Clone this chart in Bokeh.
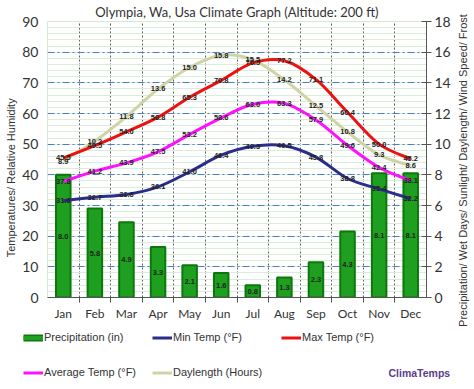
import math
from bokeh.plotting import figure
from bokeh.layouts import column, row
from bokeh.models import (LinearAxis, Range1d, FixedTicker, SingleIntervalTicker,
                          Legend, LegendItem, Label, ColumnDataSource)
from bokeh.core.properties import value
from bokeh.embed import file_html
from bokeh.resources import INLINE

months = ["Jan", "Feb", "Mar", "Apr", "May", "Jun", "Jul", "Aug", "Sep", "Oct", "Nov", "Dec"]
precip = [8.0, 5.8, 4.9, 3.3, 2.1, 1.6, 0.8, 1.3, 2.3, 4.3, 8.1, 8.1]
min_t = [31.6, 32.7, 33.6, 36.1, 41.0, 46.4, 49.3, 49.5, 45.8, 38.8, 35.4, 32.2]
max_t = [45.5, 49.5, 54.0, 58.8, 65.3, 70.8, 76.5, 77.2, 71.1, 60.4, 50.0, 45.2]
avg_t = [37.8, 41.2, 43.9, 47.5, 53.2, 58.6, 63.0, 63.3, 57.9, 49.6, 42.4, 38.1]
daylen = [8.9, 10.2, 11.8, 13.6, 15.0, 15.8, 15.5, 14.2, 12.5, 10.8, 9.3, 8.6]

xs = list(range(len(months)))
boundaries = [i + 0.5 for i in range(len(months) - 1)]

TICK_FONT = "Lato"
LAB_FONT = "Liberation Sans"
W_MAIN = 453
W_SIDE = 474 - W_MAIN

p = figure(width=W_MAIN, height=323, x_range=Range1d(-0.5, 11.5), y_range=Range1d(0, 90),
           output_backend="svg", toolbar_location=None,
           min_border_top=21, min_border_bottom=19, min_border_left=47,
           min_border_right=W_MAIN - 428)
p.extra_y_ranges = {"right": Range1d(0, 18)}
p.background_fill_color = "white"
p.border_fill_color = "white"
p.outline_line_color = "#d3ebd3"

p.title.text = "Olympia, Wa, Usa Climate Graph (Altitude: 200 ft)"
p.title.align = "center"
p.title.text_font = TICK_FONT
p.title.text_font_size = "13px"
p.title.text_font_style = "normal"
p.title.text_color = "#333333"
p.title.standoff = 3

# left axis
yl = p.yaxis[0]
yl.ticker = SingleIntervalTicker(interval=10, num_minor_ticks=5)
yl.axis_line_color = None
yl.major_tick_line_color = None
yl.major_tick_out = 0
yl.minor_tick_line_color = None
yl.major_label_text_font = TICK_FONT
yl.major_label_text_font_size = "14px"
yl.major_label_text_color = "#333333"
yl.major_label_standoff = 5
yl.axis_label = "Temperatures/ Relative Humidity" + "\u00a0" * 12
yl.axis_label_text_font = LAB_FONT
yl.axis_label_text_font_size = "11px"
yl.axis_label_text_font_style = "normal"
yl.axis_label_text_color = "#333333"
yl.axis_label_standoff = 2

# right axis (its title is drawn in the side strip so it reads bottom-to-top)
yr = LinearAxis(y_range_name="right", ticker=SingleIntervalTicker(interval=2))
yr.axis_line_color = "#555555"
yr.major_tick_line_color = "#555555"
yr.major_tick_in = 5
yr.major_tick_out = 5
yr.minor_tick_line_color = None
yr.major_label_text_font = TICK_FONT
yr.major_label_text_font_size = "14px"
yr.major_label_text_color = "#333333"
yr.major_label_standoff = 3
p.add_layout(yr, "right")

# bottom axis
xa = p.xaxis[0]
xa.ticker = FixedTicker(ticks=xs, minor_ticks=boundaries)
xa.major_label_overrides = {i: m for i, m in enumerate(months)}
xa.major_tick_line_color = None
xa.major_tick_out = 0
xa.major_tick_in = 0
xa.minor_tick_line_color = "#555555"
xa.minor_tick_in = 0
xa.minor_tick_out = 5
xa.axis_line_color = "#555555"
xa.major_label_text_font = TICK_FONT
xa.major_label_text_font_size = "12px"
xa.major_label_text_color = "#333333"
xa.major_label_standoff = 3

# grids
p.xgrid.ticker = FixedTicker(ticks=boundaries)
p.xgrid.grid_line_color = "#333333"
p.xgrid.grid_line_dash = "2 2"
p.xgrid.grid_line_alpha = 0.8
p.ygrid.ticker = SingleIntervalTicker(interval=10, num_minor_ticks=5)
p.ygrid.grid_line_color = "#4a7fc8"
p.ygrid.grid_line_dash = "7 3 2 3"
p.ygrid.minor_grid_line_color = "#d8eed8"

# bars
bar_src = ColumnDataSource(dict(x=xs, top=precip, mid=[v / 2 for v in precip],
                                lab=[f"{v:.1f}" for v in precip]))
p.vbar(x="x", top="top", width=0.46, source=bar_src, y_range_name="right",
       fill_color="#1f9f1f", line_color="#0c780c", line_width=2)


def bezier_src(vals):
    n = len(vals)
    d = dict(x0=[], y0=[], x1=[], y1=[], cx0=[], cy0=[], cx1=[], cy1=[])
    for i in range(n - 1):
        im = max(i - 1, 0)
        ip2 = min(i + 2, n - 1)
        d["x0"].append(xs[i]); d["y0"].append(vals[i])
        d["x1"].append(xs[i + 1]); d["y1"].append(vals[i + 1])
        d["cx0"].append(xs[i] + (xs[i + 1] - xs[im]) / 6.0)
        d["cy0"].append(vals[i] + (vals[i + 1] - vals[im]) / 6.0)
        d["cx1"].append(xs[i + 1] - (xs[ip2] - xs[i]) / 6.0)
        d["cy1"].append(vals[i + 1] - (vals[ip2] - vals[i]) / 6.0)
    return ColumnDataSource(d)


C_DAY, C_AVG, C_MIN, C_MAX = "#cfd3a6", "#ff11ff", "#2c2c8c", "#ee1111"
series = [(daylen, C_DAY, "right"), (avg_t, C_AVG, "default"),
          (min_t, C_MIN, "default"), (max_t, C_MAX, "default")]
for vals, col, rng in series:
    p.bezier(x0="x0", y0="y0", x1="x1", y1="y1", cx0="cx0", cy0="cy0", cx1="cx1", cy1="cy1",
             source=bezier_src(vals), line_color=col, line_width=3, y_range_name=rng)

LBL = dict(text_font=value(LAB_FONT), text_font_size="7.5px", text_font_style="bold",
           text_color="#222222", text_align="center", text_baseline="middle")

p.text(x="x", y="mid", text="lab", source=bar_src, y_range_name="right", **LBL)
for vals, col, rng in series:
    src = ColumnDataSource(dict(x=xs, y=vals, lab=[f"{v:.1f}" for v in vals]))
    p.text(x="x", y="y", text="lab", source=src, y_range_name=rng, **LBL)

# ---- legend strip below ----
p2 = figure(width=W_MAIN, height=66, x_range=Range1d(0, W_MAIN), y_range=Range1d(0, 66),
            output_backend="svg", toolbar_location=None, x_axis_type=None, y_axis_type=None,
            min_border=0, min_border_left=0, min_border_right=0, min_border_top=0,
            min_border_bottom=0)
p2.outline_line_color = None
p2.grid.visible = False
p2.background_fill_color = "white"
p2.border_fill_color = "white"

NAN = [float("nan")]
lg_bar_o = p2.line(x=NAN, y=NAN, line_color="#0c780c", line_width=7)
lg_bar_i = p2.line(x=NAN, y=NAN, line_color="#1f9f1f", line_width=4)
lg_min = p2.line(x=NAN, y=NAN, line_color=C_MIN, line_width=3)
lg_max = p2.line(x=NAN, y=NAN, line_color=C_MAX, line_width=3)
lg_avg = p2.line(x=NAN, y=NAN, line_color=C_AVG, line_width=3)
lg_day = p2.line(x=NAN, y=NAN, line_color=C_DAY, line_width=3)

# column-major fill: col1 = Precip/Avg, col2 = Min/Daylength, col3 = Max
legend = Legend(items=[
    LegendItem(label="Precipitation (in)", renderers=[lg_bar_o, lg_bar_i]),
    LegendItem(label="Average Temp (°F)", renderers=[lg_avg]),
    LegendItem(label="Min Temp (°F)", renderers=[lg_min]),
    LegendItem(label="Daylength (Hours)", renderers=[lg_day]),
    LegendItem(label="Max Temp (°F)", renderers=[lg_max]),
], ncols=3, location=(23, 3.5), padding=0, margin=0, spacing=8,
    glyph_width=20, glyph_height=27, label_height=27, label_width=100, label_standoff=1,
    border_line_color=None, background_fill_alpha=0,
    label_text_font=LAB_FONT, label_text_font_size="11px", label_text_color="#333333")
p2.add_layout(legend, "center")

p2.add_layout(Label(x=388, y=17, text="ClimaTemps",
                    text_font=LAB_FONT, text_font_size="10.5px", text_font_style="bold",
                    text_color="#5b3d8c", text_align="left", text_baseline="middle"))

# ---- right-hand strip for the secondary axis title ----
p3 = figure(width=W_SIDE, height=389, x_range=Range1d(0, W_SIDE), y_range=Range1d(0, 389),
            output_backend="svg", toolbar_location=None, x_axis_type=None, y_axis_type=None,
            min_border=0, min_border_left=0, min_border_right=0, min_border_top=0,
            min_border_bottom=0)
p3.outline_line_color = None
p3.grid.visible = False
p3.background_fill_color = "white"
p3.border_fill_color = "white"
p3.add_layout(Label(x=462 - W_MAIN, y=389 - 170, angle=math.pi / 2,
                    text="Precipitation/ Wet Days/ Sunlight/ Daylength/ Wind Speed/ Frost",
                    text_font=LAB_FONT, text_font_size="11px", text_color="#333333",
                    text_align="center", text_baseline="middle"))

layout = row(column(p, row(p2), spacing=0), p3, spacing=0)
open("out.html", "w").write(file_html(layout, INLINE))
